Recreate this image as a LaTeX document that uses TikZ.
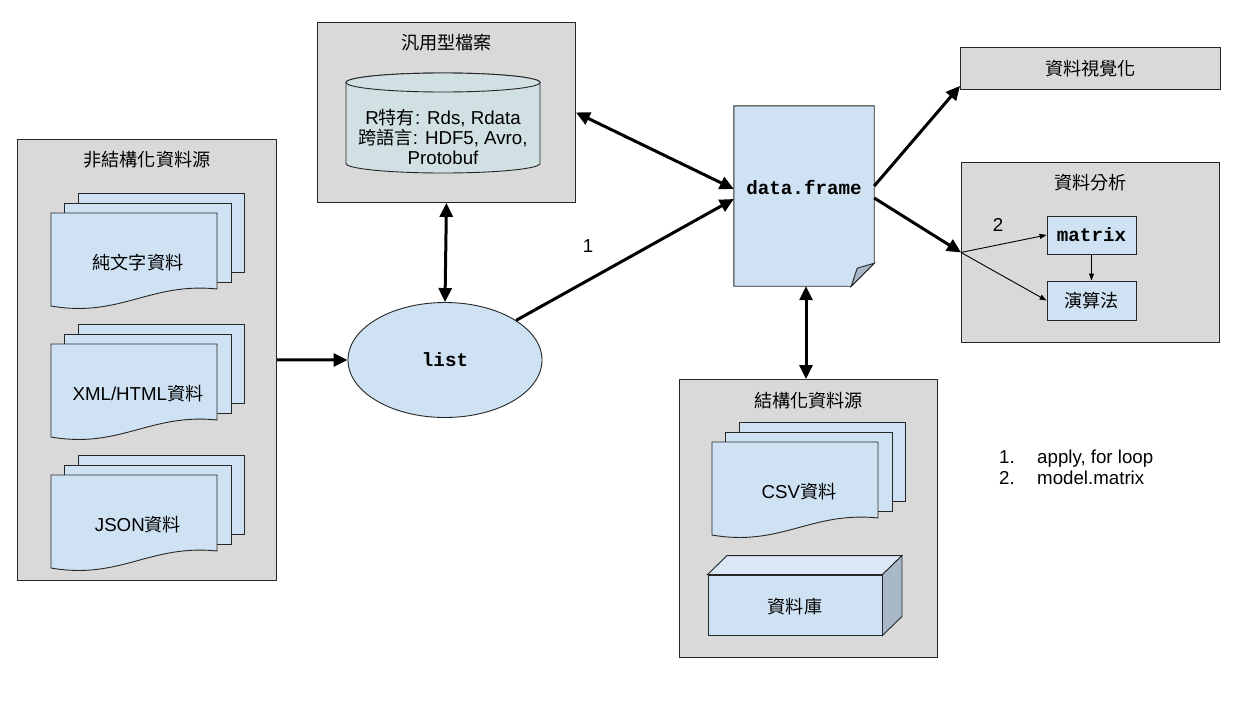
\documentclass[tikz,border=0pt]{standalone}
\usepackage{fontspec}
\setmainfont{Liberation Sans}
\newfontfamily\cjk[Scale=0.97]{Noto Sans CJK TC}
\newfontfamily\codefont{Liberation Mono}
\usetikzlibrary{arrows.meta,shapes.geometric,calc}

\definecolor{boxgray}{HTML}{D9D9D9}
\definecolor{paleblue}{HTML}{CFE2F3}
\definecolor{cylblue}{HTML}{D0E0E3}
\definecolor{shadeblue}{HTML}{A8B8C8}
\definecolor{topblue}{HTML}{DCE8F5}

\tikzset{
  graybox/.style={draw=black!85, fill=boxgray, line width=0.9pt, rectangle, inner sep=0pt, anchor=north west},
  sheet/.style={draw=black!85, fill=paleblue, line width=0.9pt},
  bluebox/.style={draw=black!85, fill=paleblue, line width=0.9pt, rectangle, inner sep=0pt},
  label/.style={font=\fontsize{18.7}{20}\selectfont, inner sep=0pt},
  code/.style={font=\fontsize{19.2}{20}\selectfont\codefont\bfseries, inner sep=0pt},
  bigarrow/.style={line width=3pt, -{Triangle[length=14pt,width=13pt]}},
  bigboth/.style={line width=3pt, {Triangle[length=14pt,width=13pt]}-{Triangle[length=14pt,width=13pt]}},
  thinarrow/.style={line width=0.9pt, -{Triangle[length=7pt,width=5pt]}},
}

% stack of three sheets, the front one with a wavy lower edge
% #1 name of the label node, #2 left edge, #3 top edge (downwards), #4 label
\newcommand{\docstack}[4]{%
  \draw[sheet] ({#2+27},{-#3+20}) rectangle ({#2+193},{-#3-59});
  \draw[sheet] ({#2+13},{-#3+10}) rectangle ({#2+180},{-#3-69});
  \draw[sheet] (#2,-#3) -- ({#2+166},-#3) -- ({#2+166},{-#3-76})
    .. controls ({#2+99},{-#3-69}) and ({#2+69},{-#3-105}) .. (#2,{-#3-93}) -- cycle;
  \node[label] (#1) at ({#2+87},{-#3-50}) {#4};
}

\begin{document}
\begin{tikzpicture}[x=1pt,y=1pt]
\useasboundingbox[fill=white] (0,0) rectangle (1241,-720);

% ---- container boxes ----
\node[graybox, minimum width=259pt, minimum height=441pt] (unstr) at (17,-139) {};
\node[label] (unstrT) at ([yshift=-21pt]unstr.north) {\cjk 非結構化資料源};

\node[graybox, minimum width=258pt, minimum height=180pt] (gen) at (317,-22) {};
\node[label] (genT) at ([yshift=-21pt]gen.north) {\cjk 汎用型檔案};

\node[graybox, minimum width=260pt, minimum height=42pt] (viz) at (960,-47) {};
\node[label] (vizT) at (viz.center) {\cjk 資料視覺化};

\node[graybox, minimum width=258pt, minimum height=180pt] (ana) at (961,-162) {};
\node[label] (anaT) at ([yshift=-21pt]ana.north) {\cjk 資料分析};

\node[graybox, minimum width=258pt, minimum height=278pt] (str) at (679,-379) {};
\node[label] (strT) at ([yshift=-22pt]str.north) {\cjk 結構化資料源};

% ---- unstructured sources ----
\docstack{txt}{51}{213}{\cjk 純文字資料}
\docstack{xml}{51}{344}{XML/HTML{\cjk 資料}}
\docstack{json}{51}{475}{JSON{\cjk 資料}}

% ---- generic file formats (cylinder) ----
\node[minimum width=194pt, minimum height=100pt, inner sep=0pt] (cyl) at (443,-123) {};
\draw[fill=cylblue, draw=black!85, line width=0.9pt]
  (346,-82.5) -- (346,-163.5)
  arc[start angle=180, end angle=360, x radius=97pt, y radius=9.5pt]
  -- (540,-82.5)
  arc[start angle=0, end angle=180, x radius=97pt, y radius=9.5pt] -- cycle;
\draw[fill=cylblue, draw=black!85, line width=0.9pt] (443,-82.5) ellipse [x radius=97pt, y radius=9.5pt];
\node[label, align=center] (cylT) at (443,-137)
  {R{\cjk 特有}: Rds, Rdata\\{\cjk 跨語言}: HDF5, Avro,\\Protobuf};

% ---- list ----
\node[ellipse, draw=black!85, fill=paleblue, line width=0.9pt, minimum width=194pt, minimum height=115pt] (list) at (445,-360) {};
\node[code] (listT) at (list.center) {list};

% ---- data.frame (page with folded corner) ----
\node[minimum width=140pt, minimum height=180pt, inner sep=0pt] (df) at (804,-196) {};
\draw[fill=paleblue, draw=black!85, line width=0.9pt]
  (df.north west) -- (df.north east) -- ([yshift=23pt]df.south east)
  -- ([xshift=-23pt]df.south east) -- (df.south west) -- cycle;
\draw[fill=shadeblue, draw=black!85, line width=0.9pt]
  ([yshift=23pt]df.south east) -- ([xshift=-23pt]df.south east)
  -- ([xshift=-17pt,yshift=18pt]df.south east) -- cycle;
\node[code] (dfT) at ([yshift=9pt]df.center) {data.frame};

% ---- analysis ----
\node[bluebox, minimum width=89pt, minimum height=38pt] (mat) at (1091.5,-235) {};
\node[code] (matT) at (mat.center) {matrix};
\node[bluebox, minimum width=89pt, minimum height=39pt] (alg) at (1091.5,-300.5) {};
\node[label] (algT) at (alg.center) {\cjk 演算法};

% ---- structured sources ----
\docstack{csv}{712}{442}{CSV{\cjk 資料}}

% database block
\node[bluebox, minimum width=174pt, minimum height=60pt] (db) at (795,-605) {};
\draw[fill=topblue, draw=black!85, line width=0.9pt]
  (db.north west) -- ([shift={(19.5pt,19pt)}]db.north west)
  -- ([shift={(19.5pt,19pt)}]db.north east) -- (db.north east) -- cycle;
\draw[fill=shadeblue, draw=black!85, line width=0.9pt]
  (db.north east) -- ([shift={(19.5pt,19pt)}]db.north east)
  -- ([shift={(19.5pt,19pt)}]db.south east) -- (db.south east) -- cycle;
\node[label] (dbT) at ([yshift=-2pt]db.center) {\cjk 資料庫};

% ---- connectors ----
\draw[bigarrow] (unstr.east) -- (list.west);
\draw[bigboth] (gen.south) -- (list.north);
\draw[bigarrow] (list) -- ([yshift=-3pt]df.west);
\draw[bigboth] (gen.east) -- ([yshift=7pt]df.west);
\draw[bigarrow] ([yshift=10pt]df.east) -- ([yshift=4pt]viz.south west);
\draw[bigarrow] ([yshift=-2pt]df.east) -- (ana.west);
\coordinate (dfs) at ([xshift=2pt]df.south);
\draw[bigboth] (dfs) -- (dfs |- str.north);

\draw[thinarrow] (ana.west) -- (mat.west);
\draw[thinarrow] (ana.west) -- (alg.west);
\draw[thinarrow] (mat.south) -- (alg.north);

\node[label] (one) at (588,-246) {1};
\node[label] (two) at (998,-225) {2};

% ---- legend ----
\node[label, anchor=base west] (leg1) at (999,-463) {\makebox[38pt][l]{1.}apply, for loop};
\node[label, anchor=base west] (leg2) at (999,-484) {\makebox[38pt][l]{2.}model.matrix};
\end{tikzpicture}
\end{document}
